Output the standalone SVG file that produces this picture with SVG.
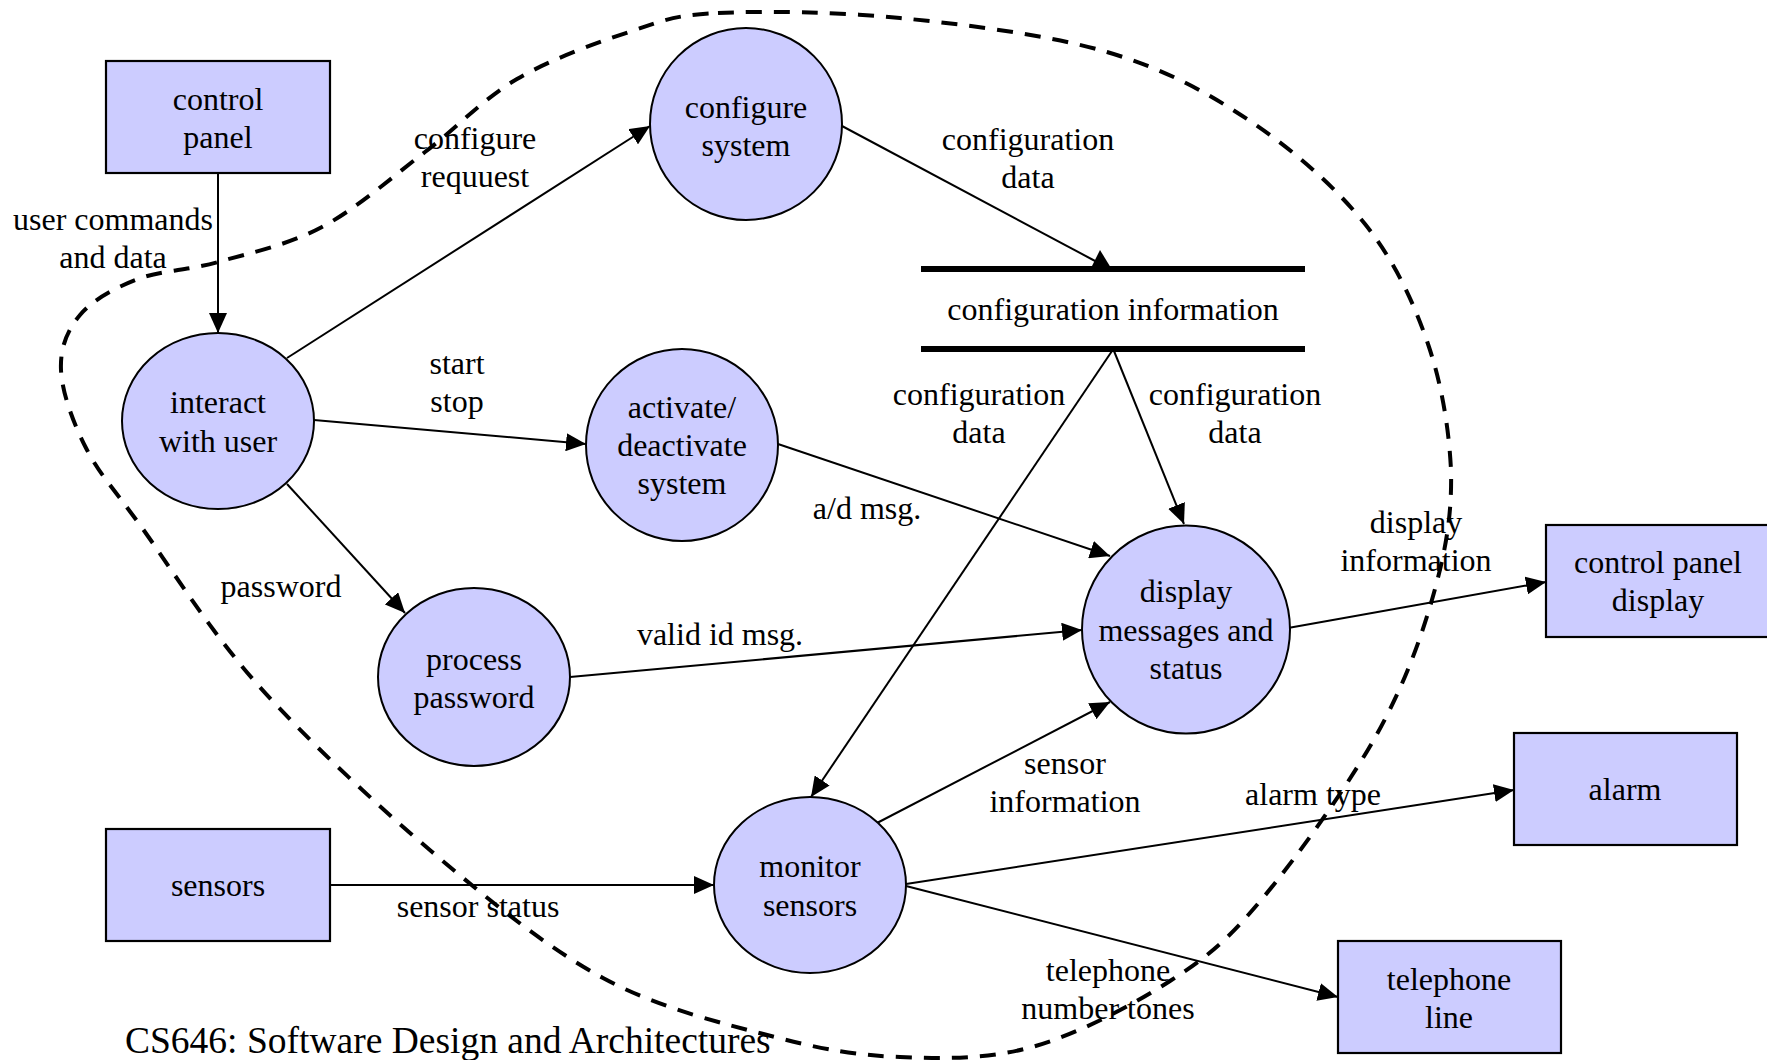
<svg xmlns="http://www.w3.org/2000/svg" width="1767" height="1060" viewBox="0 0 1767 1060">
  <style>
    .proc { fill: #CCCCFF; stroke: #000; stroke-width: 2; }
    .ext { fill: #CCCCFF; stroke: #000; stroke-width: 2.2; }
    .t { font-family: "Liberation Serif", "Times New Roman", serif; font-size: 32px; fill: #000; text-anchor: middle; }
    .flow { stroke: #000; stroke-width: 2; fill: none; marker-end: url(#arrow); }
    .store { stroke: #000; stroke-width: 6; }
    .boundary { fill: none; stroke: #000; stroke-width: 4; stroke-dasharray: 16 12; }
    .footer { font-family: "Liberation Serif", "Times New Roman", serif; font-size: 37.5px; fill: #000; }
  </style>
  <defs>
    <marker id="arrow" markerUnits="userSpaceOnUse" markerWidth="20" markerHeight="18" refX="20" refY="9" orient="auto">
      <path d="M0,0 L20,9 L0,18 z" fill="#000"/>
    </marker>
  </defs>

  <rect width="1767" height="1060" fill="#fff"/>

  <!-- connectors -->
  <g id="connectors">
    <line class="flow" x1="218" y1="173" x2="218" y2="333"/>
    <line class="flow" x1="287" y1="358" x2="650" y2="126"/>
    <line class="flow" x1="314" y1="420" x2="586" y2="444"/>
    <line class="flow" x1="287" y1="484" x2="405" y2="613"/>
    <line x1="842" y1="126" x2="1097" y2="262" stroke="#000" stroke-width="2"/>
    <polygon points="1100,250 1091,268 1111,268" fill="#000"/>
    <line class="flow" x1="1112" y1="351" x2="811" y2="797"/>
    <line class="flow" x1="1114" y1="351" x2="1184" y2="524"/>
    <line class="flow" x1="778" y1="444" x2="1110" y2="556"/>
    <line class="flow" x1="570" y1="677" x2="1082" y2="630"/>
    <line class="flow" x1="877" y1="823" x2="1110" y2="702"/>
    <line class="flow" x1="1288" y1="628" x2="1546" y2="582"/>
    <line class="flow" x1="906" y1="884" x2="1514" y2="790"/>
    <line class="flow" x1="906" y1="886" x2="1338" y2="997"/>
    <line class="flow" x1="330" y1="885" x2="714" y2="885"/>
  </g>

  <!-- data store -->
  <g id="store-configuration-information">
    <line class="store" x1="921" y1="269" x2="1305" y2="269"/>
    <line class="store" x1="921" y1="349" x2="1305" y2="349"/>
    <text class="t" x="1113" y="320">configuration information</text>
  </g>

  <!-- external entities -->
  <g id="ext-control-panel">
    <rect class="ext" x="106" y="61" width="224" height="112"/>
    <text class="t" x="218" y="110">control</text>
    <text class="t" x="218" y="148">panel</text>
  </g>
  <g id="ext-sensors">
    <rect class="ext" x="106" y="829" width="224" height="112"/>
    <text class="t" x="218" y="896">sensors</text>
  </g>
  <g id="ext-control-panel-display">
    <rect class="ext" x="1546" y="525" width="224" height="112"/>
    <text class="t" x="1658" y="573">control panel</text>
    <text class="t" x="1658" y="611">display</text>
  </g>
  <g id="ext-alarm">
    <rect class="ext" x="1514" y="733" width="223" height="112"/>
    <text class="t" x="1625" y="800">alarm</text>
  </g>
  <g id="ext-telephone-line">
    <rect class="ext" x="1338" y="941" width="223" height="112"/>
    <text class="t" x="1449" y="990">telephone</text>
    <text class="t" x="1449" y="1028">line</text>
  </g>

  <!-- processes -->
  <g id="proc-interact">
    <ellipse class="proc" cx="218" cy="421" rx="96" ry="88"/>
    <text class="t" x="218" y="413">interact</text>
    <text class="t" x="218" y="452">with user</text>
  </g>
  <g id="proc-configure">
    <ellipse class="proc" cx="746" cy="124" rx="96" ry="96"/>
    <text class="t" x="746" y="118">configure</text>
    <text class="t" x="746" y="156">system</text>
  </g>
  <g id="proc-activate">
    <ellipse class="proc" cx="682" cy="445" rx="96" ry="96"/>
    <text class="t" x="682" y="418">activate/</text>
    <text class="t" x="682" y="456">deactivate</text>
    <text class="t" x="682" y="494">system</text>
  </g>
  <g id="proc-password">
    <ellipse class="proc" cx="474" cy="677" rx="96" ry="89"/>
    <text class="t" x="474" y="670">process</text>
    <text class="t" x="474" y="708">password</text>
  </g>
  <g id="proc-display">
    <ellipse class="proc" cx="1186" cy="629.5" rx="104" ry="104"/>
    <text class="t" x="1186" y="602">display</text>
    <text class="t" x="1186" y="641">messages and</text>
    <text class="t" x="1186" y="679">status</text>
  </g>
  <g id="proc-monitor">
    <ellipse class="proc" cx="810" cy="885" rx="96" ry="88"/>
    <text class="t" x="810" y="877">monitor</text>
    <text class="t" x="810" y="916">sensors</text>
  </g>

  <!-- flow labels -->
  <g id="labels">
    <text class="t" x="113" y="230">user commands</text>
    <text class="t" x="113" y="268">and data</text>
    <text class="t" x="475" y="149">configure</text>
    <text class="t" x="475" y="187">requuest</text>
    <text class="t" x="1028" y="150">configuration</text>
    <text class="t" x="1028" y="188">data</text>
    <text class="t" x="457" y="374">start</text>
    <text class="t" x="457" y="412">stop</text>
    <text class="t" x="979" y="405">configuration</text>
    <text class="t" x="979" y="443">data</text>
    <text class="t" x="1235" y="405">configuration</text>
    <text class="t" x="1235" y="443">data</text>
    <text class="t" x="867" y="519">a/d msg.</text>
    <text class="t" x="1416" y="533">display</text>
    <text class="t" x="1416" y="571">information</text>
    <text class="t" x="281" y="597">password</text>
    <text class="t" x="720" y="645">valid id msg.</text>
    <text class="t" x="1065" y="774">sensor</text>
    <text class="t" x="1065" y="812">information</text>
    <text class="t" x="1313" y="805">alarm type</text>
    <text class="t" x="478" y="917">sensor status</text>
    <text class="t" x="1108" y="981">telephone</text>
    <text class="t" x="1108" y="1019">number tones</text>
  </g>

  <!-- system boundary -->
  <path class="boundary" d="M718 13 C762.7 10.8 835.2 11.5 900 18 C964.8 24.5 1048.7 34.8 1107 52 C1165.3 69.2 1207 92.3 1250 121 C1293 149.7 1335.3 186.8 1365 224 C1394.7 261.2 1414 303 1428 344 C1442 385 1449 429.2 1451 470 C1452 510.8 1447 545 1435 589 C1423 633 1405.7 682.3 1377 734 C1348.3 785.7 1296.5 857.8 1262 899 C1227.5 940.2 1208.3 956.3 1170 981 C1131.7 1005.7 1077 1034.5 1032 1047 C987 1059.5 942.8 1058.7 900 1057 C857.2 1055.3 824.5 1050 775 1037 C725.5 1024 660.3 1009 603 978 C545.7 947 488.5 899.8 431 851 C373.5 802.2 306.5 739.3 258 685 C209.5 630.7 168.7 564.5 140 525 C111.3 485.5 99.2 473.8 86 448 C72.8 422.2 62 392.2 61 370 C60 347.8 67.2 330.2 80 315 C92.8 299.8 115 287.8 138 279 C161 270.2 187.3 270.7 218 262 C248.7 253.3 287.5 245.3 322 227 C356.5 208.7 392.5 176.7 425 152 C457.5 127.3 482.5 99.2 517 79 C551.5 58.8 598.5 42 632 31 C665.5 20 673.3 15.2 718 13 Z"/>

  <text class="footer" x="125" y="1053">CS646: Software Design and Architectures</text>
</svg>
